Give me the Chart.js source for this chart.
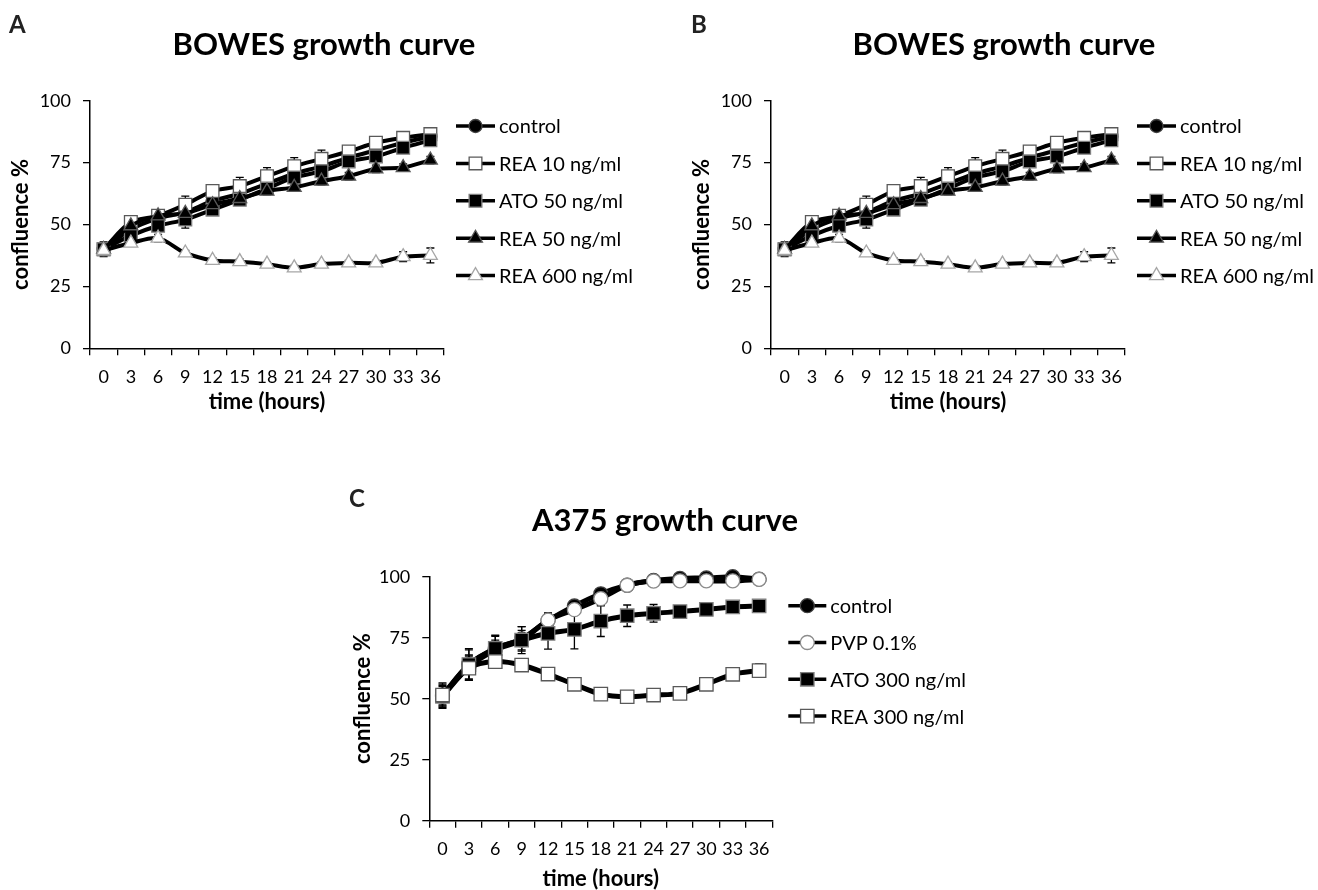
<!DOCTYPE html>
<html>
<head>
<meta charset="utf-8">
<script src="https://cdn.jsdelivr.net/npm/chart.js@4.4.1/dist/chart.umd.min.js"></script>
<style>
  html, body { margin: 0; padding: 0; background: #fff; }
  body { width: 1318px; height: 890px; position: relative; overflow: hidden; font-family: Lato, 'Open Sans', sans-serif; }
  canvas { position: absolute; }
  .letter { position: absolute; font-weight: bold; font-size: 24px; line-height: 24px; color: #222; }
  .title { position: absolute; width: 500px; text-align: center; font-weight: bold; font-size: 31px; line-height: 31px; color: #000; white-space: nowrap; }
</style>
</head>
<body>
<canvas id="chartA" width="648" height="420" style="left:0;top:0"></canvas>
<canvas id="chartB" width="637" height="420" style="left:681px;top:0"></canvas>
<canvas id="chartC" width="660" height="410" style="left:340px;top:480px"></canvas>

<div class="letter" style="left:9px;top:12px">A</div>
<div class="title" style="left:74px;top:28px">BOWES growth curve</div>
<div class="letter" style="left:691px;top:12px">B</div>
<div class="title" style="left:754px;top:28px">BOWES growth curve</div>
<div class="letter" style="left:349px;top:486px">C</div>
<div class="title" style="left:415px;top:504px">A375 growth curve</div>

<script>
Chart.defaults.font.family = 'Lato, "Open Sans", sans-serif';
Chart.defaults.color = '#000';

// --- dados ---
const hours = ['0', '3', '6', '9', '12', '15', '18', '21', '24', '27', '30', '33', '36'];
const yTicks = [0, 25, 50, 75, 100];

// BOWES (A e B)
const bowesLabels = ['control', 'REA 10 ng/ml', 'ATO 50 ng/ml', 'REA 50 ng/ml', 'REA 600 ng/ml'];
const bowesControl = [40, 48, 52.5, 55, 59.5, 62.5, 66.5, 70.5, 73.5, 77, 80, 83, 85.5];
const bowesRea10 = [40, 51, 53.5, 58, 63.5, 65.5, 69.5, 73.5, 76.5, 79.5, 83, 85, 86.5];
const bowesAto50 = [40, 45.5, 49.5, 52, 56, 60, 64.5, 69, 71.5, 75.5, 77.5, 81, 84];
const bowesRea50 = [40, 49.5, 53.5, 54.5, 58, 60.5, 63.5, 65, 67.5, 69.5, 72.5, 73, 76];
const bowesRea600 = [39.5, 42.5, 44.5, 38.5, 35.5, 35, 34, 32.5, 34, 34.5, 34.5, 37, 37.5];
const bowesControlErr = [3, 1, 1, 1.5, 1, 1.5, 1.5, 1.5, 1.5, 1.5, 1.5, 1.5, 1.5];
const bowesRea10Err = [1, 1.5, 1.5, 3.5, 2.5, 3.5, 3.5, 3.5, 3.5, 2, 1.5, 1.5, 1.5];
const bowesAto50Err = [1, 1.5, 2, 3.5, 2, 2, 2, 2, 2, 2, 2, 2, 2];
const bowesRea50Err = [1, 1, 1.5, 1.5, 1.5, 1.5, 1.5, 1.5, 1.5, 1.5, 1.5, 1.5, 1.5];
const bowesRea600Err = [1, 1, 1.5, 1, 1, 1, 1, 1, 1, 1, 1, 2, 3];

// A375 (C)
const a375Labels = ['control', 'PVP 0.1%', 'ATO 300 ng/ml', 'REA 300 ng/ml'];
const a375Control = [51.5, 64, 70.5, 74.5, 82, 88, 93, 96.5, 98.5, 99.3, 99.5, 100, 99];
const a375Pvp = [51, 63, 70, 74, 82.2, 86.5, 91, 96.5, 98.2, 98.3, 98.3, 98.3, 98.9];
const a375Ato300 = [51, 64, 70.6, 74, 76.8, 78.4, 81.8, 84, 85, 85.7, 86.6, 87.6, 88];
const a375Rea300 = [51.5, 62.5, 65.2, 63.8, 60.1, 55.9, 51.9, 50.8, 51.5, 52.2, 55.9, 60, 61.5];
const a375ControlErr = [5, 6.5, 5.5, 5, 3, 2, 1.5, 1, 1, 1, 1, 1, 1];
const a375PvpErr = [4, 5, 4, 4, 3, 2, 1.5, 1, 1, 1, 1, 1, 1];
const a375Ato300Err = [5, 6, 5, 5.5, 6.5, 8, 6.3, 4.4, 3.6, 1.5, 1, 1, 1];
const a375Rea300Err = [4, 5, 2, 2, 1.5, 1.5, 1, 1, 1, 1, 1, 1.5, 2.8];

// --- plugins ---
// barras de erro desenhadas por baixo das linhas
const errorBars = {
    id: 'errorBars',
    beforeDatasetsDraw(chart) {
        const ctx = chart.ctx;
        const yScale = chart.scales.y;
        ctx.save();
        ctx.strokeStyle = '#000';
        ctx.lineWidth = 1.3;
        chart.data.datasets.forEach((ds, i) => {
            const meta = chart.getDatasetMeta(i);
            meta.data.forEach((pt, j) => {
                const e = ds.errors[j];
                if (!e) return;
                const top = yScale.getPixelForValue(ds.data[j] + e);
                const bottom = yScale.getPixelForValue(ds.data[j] - e);
                ctx.beginPath();
                ctx.moveTo(pt.x, top); ctx.lineTo(pt.x, bottom);
                ctx.moveTo(pt.x - 4, top); ctx.lineTo(pt.x + 4, top);
                ctx.moveTo(pt.x - 4, bottom); ctx.lineTo(pt.x + 4, bottom);
                ctx.stroke();
            });
        });
        ctx.restore();
    }
};

// legenda estilo Excel: linha + marcador + texto
const lineLegend = {
    id: 'lineLegend',
    afterDraw(chart, args, opts) {
        const { ctx, chartArea } = chart;
        const x0 = chartArea.right + opts.offsetX;
        ctx.save();
        ctx.font = opts.font;
        ctx.textBaseline = 'middle';
        chart.data.datasets.forEach((ds, i) => {
            const y = chartArea.top + opts.offsetY + i * opts.spacing;
            ctx.strokeStyle = '#000';
            ctx.lineWidth = opts.lineWidth;
            ctx.beginPath();
            ctx.moveTo(x0, y);
            ctx.lineTo(x0 + opts.lineLength, y);
            ctx.stroke();
            ctx.fillStyle = ds.pointBackgroundColor;
            ctx.strokeStyle = ds.pointBorderColor;
            ctx.lineWidth = ds.pointBorderWidth;
            Chart.helpers.drawPoint(ctx, { pointStyle: ds.pointStyle, radius: ds.pointRadius, borderWidth: ds.pointBorderWidth }, x0 + opts.lineLength / 2, y);
            ctx.fillStyle = '#000';
            ctx.fillText(ds.label, x0 + opts.textOffset, y + 1);
        });
        ctx.restore();
    }
};

function serie(label, data, errors, style, lineWidth) {
    return {
        label: label,
        data: data,
        errors: errors,
        borderColor: '#000',
        borderWidth: lineWidth,
        tension: 0.3,
        fill: false,
        clip: false,
        pointStyle: style.shape,
        pointRadius: style.radius,
        pointBackgroundColor: style.fill,
        pointBorderColor: style.border,
        pointBorderWidth: 1.3
    };
}

function makeChart(id, datasets, cfg) {
    // últimas séries por cima, como no Excel
    datasets.forEach((ds, i) => { ds.order = datasets.length - 1 - i; });
    return new Chart(document.getElementById(id), {
        type: 'line',
        data: { labels: hours, datasets: datasets },
        options: {
            responsive: false,
            animation: false,
            events: [],
            layout: { padding: { top: cfg.top, right: cfg.right, left: 0, bottom: 0 } },
            scales: {
                x: {
                    offset: true,
                    ticks: { color: '#000', font: { size: 18 }, padding: 11, autoSkip: false, maxRotation: 0 },
                    grid: { offset: true, drawOnChartArea: false, tickLength: 7, color: '#000', lineWidth: 1.3 },
                    border: { color: '#000', width: 1.5 },
                    title: { display: true, text: 'time (hours)', color: '#000', font: { size: 22, weight: 'bold', lineHeight: 1 }, padding: { top: 0, bottom: cfg.xTitlePad } },
                    afterFit(s) { s.height = cfg.xHeight; }
                },
                y: {
                    min: 0,
                    max: 100,
                    afterBuildTicks(s) { s.ticks = yTicks.map(v => ({ value: v })); },
                    ticks: { color: '#000', font: { size: 18 }, padding: 12 },
                    grid: { drawOnChartArea: false, tickLength: 7, color: '#000', lineWidth: 1.3 },
                    border: { color: '#000', width: 1.5 },
                    title: { display: true, text: 'confluence %', color: '#000', font: { size: 22, weight: 'bold', lineHeight: 1 }, padding: { top: cfg.yTitlePad, bottom: 0 } },
                    afterFit(s) { s.width = cfg.yWidth; }
                }
            },
            plugins: {
                legend: { display: false },
                tooltip: { enabled: false },
                lineLegend: cfg.legend
            }
        },
        plugins: [errorBars, lineLegend]
    });
}

const circleBlack = { shape: 'circle', radius: 6.5, fill: '#000', border: '#404040' };
const circleWhite = { shape: 'circle', radius: 7, fill: '#fff', border: '#8c8c8c' };
const squareWhite = { shape: 'rect', radius: 9, fill: '#fff', border: '#595959' };
const squareBlack = { shape: 'rect', radius: 9, fill: '#000', border: '#7f7f7f' };
const triBlack = { shape: 'triangle', radius: 8, fill: '#000', border: '#595959' };
const triWhite = { shape: 'triangle', radius: 8, fill: '#fff', border: '#a6a6a6' };

function bowesSeries() {
    return [
        serie(bowesLabels[0], bowesControl, bowesControlErr, circleBlack, 4),
        serie(bowesLabels[1], bowesRea10, bowesRea10Err, squareWhite, 4),
        serie(bowesLabels[2], bowesAto50, bowesAto50Err, squareBlack, 4),
        serie(bowesLabels[3], bowesRea50, bowesRea50Err, triBlack, 4),
        serie(bowesLabels[4], bowesRea600, bowesRea600Err, triWhite, 4)
    ];
}

const bowesLegend = { offsetX: 12, offsetY: 25.3, spacing: 37.4, lineLength: 39, textOffset: 43, lineWidth: 3.5, font: '20px Lato, "Open Sans", sans-serif' };

makeChart('chartA', bowesSeries(), { top: 100.7, right: 204, yWidth: 90, xHeight: 71.7, xTitlePad: 7, yTitlePad: 10, legend: bowesLegend });
makeChart('chartB', bowesSeries(), { top: 100.7, right: 193, yWidth: 90, xHeight: 71.7, xTitlePad: 7, yTitlePad: 10, legend: bowesLegend });

makeChart('chartC', [
    serie(a375Labels[0], a375Control, a375ControlErr, { shape: 'circle', radius: 7, fill: '#000', border: '#404040' }, 5),
    serie(a375Labels[1], a375Pvp, a375PvpErr, circleWhite, 5),
    serie(a375Labels[2], a375Ato300, a375Ato300Err, { shape: 'rect', radius: 9.5, fill: '#000', border: '#7f7f7f' }, 5),
    serie(a375Labels[3], a375Rea300, a375Rea300Err, { shape: 'rect', radius: 9.5, fill: '#fff', border: '#595959' }, 5)
], {
    top: 96.7, right: 227.7, yWidth: 89.3, xHeight: 69.3, xTitlePad: 0, yTitlePad: 12,
    legend: { offsetX: 16, offsetY: 29, spacing: 36.8, lineLength: 38, textOffset: 42, lineWidth: 3.5, font: '20px Lato, "Open Sans", sans-serif' }
});
</script>
</body>
</html>
